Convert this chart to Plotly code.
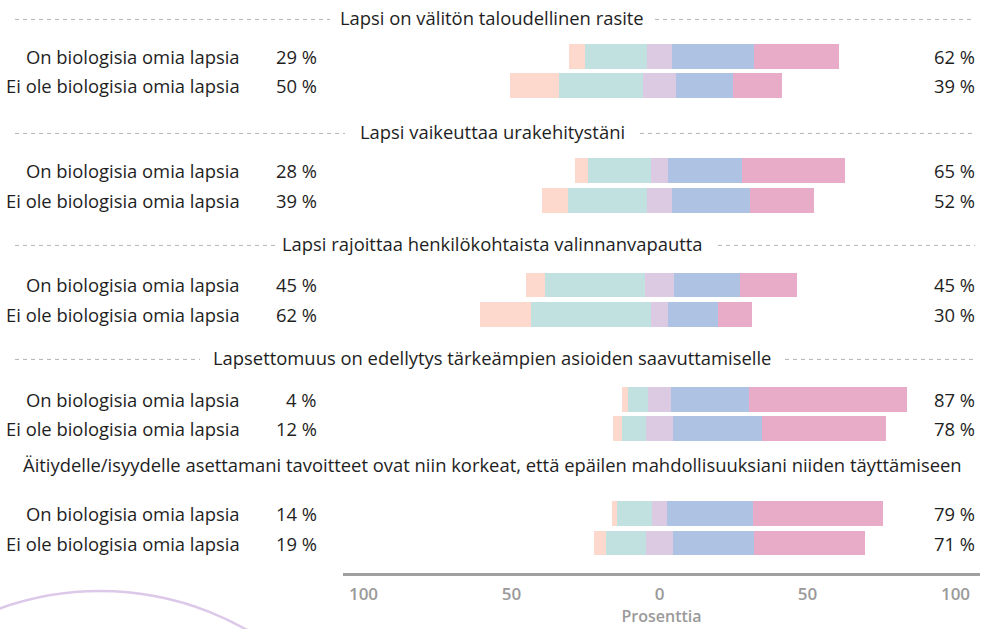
import plotly.graph_objects as go

# ---------------- data ----------------
questions = [
    "Lapsi on välitön taloudellinen rasite",
    "Lapsi vaikeuttaa urakehitystäni",
    "Lapsi rajoittaa henkilökohtaista valinnanvapautta",
    "Lapsettomuus on edellytys tärkeämpien asioiden saavuttamiselle",
    "Äitiydelle/isyydelle asettamani tavoitteet ovat niin korkeat, että epäilen mahdollisuuksiani niiden täyttämiseen",
]
groups = ["On biologisia omia lapsia", "Ei ole biologisia omia lapsia"]

# segment shares (%), rows: q1-on, q1-ei, q2-on, q2-ei, ...
strongly_disagree = [5.9, 18.1, 4.8, 9.6, 7.0, 18.5, 2.2, 3.3, 1.8, 4.4]
disagree = [22.8, 31.0, 23.2, 29.2, 36.9, 44.3, 7.4, 9.2, 12.9, 14.8]
neutral = [9.3, 12.5, 6.6, 9.2, 10.7, 6.6, 8.5, 9.6, 5.9, 10.0]
agree = [30.4, 20.7, 27.3, 28.8, 24.4, 18.2, 28.8, 33.2, 31.7, 29.9]
strongly_agree = [31.3, 18.1, 38.0, 23.6, 21.0, 12.8, 58.3, 45.4, 48.0, 41.0]

left_pct = ["29 %", "50 %", "28 %", "39 %", "45 %", "62 %", "4 %", "12 %", "14 %", "19 %"]
right_pct = ["62 %", "39 %", "65 %", "52 %", "45 %", "30 %", "87 %", "78 %", "79 %", "71 %"]

tick_vals = [-100, -50, 0, 50, 100]
tick_text = ["100", "50", "0", "50", "100"]

# ---------------- style ----------------
C_SD = "#fcd9cc"
C_D = "#c0e1df"
C_N = "#dccae3"
C_A = "#aec2e4"
C_SA = "#e8abc8"
FONT = "Open Sans"
FS = 18.4
TXT = "#1e1e1e"
GREY = "#9a9a9a"

W, H = 989, 629
ML, MR, MT, MB = 343, 9, 0, 56
GROUP_STEP = 3.875
HEADER_OFFSET = [-1.33, -1.34, -1.42, -1.43, -1.65]
ROW_PX = 29.5
FIRST_ROW_PX = 56.3

plot_h = H - MT - MB
y_top = (0 - FIRST_ROW_PX) / ROW_PX
y_bot = (plot_h - FIRST_ROW_PX) / ROW_PX

n_rows = len(left_pct)
ypos = [(i // 2) * GROUP_STEP + (i % 2) for i in range(n_rows)]

fig = go.Figure()


def add(vals, color, name):
    fig.add_trace(go.Bar(
        x=vals, y=ypos, orientation="h", marker=dict(color=color, line=dict(width=0)),
        width=0.84, name=name, hoverinfo="skip", showlegend=False,
    ))


add([-v / 2 for v in neutral], C_N, "n-")
add([-v for v in disagree], C_D, "d")
add([-v for v in strongly_disagree], C_SD, "sd")
add([v / 2 for v in neutral], C_N, "n+")
add(agree, C_A, "a")
add(strongly_agree, C_SA, "sa")

plot_w = W - ML - MR
zero_px = 659.5
bar_scale = 2.71     # px per % for bars
tick_scale = 2.96    # px per unit between printed axis labels
bar_range = [(ML - zero_px) / bar_scale, (W - MR - zero_px) / bar_scale]
tick_pos = [t * tick_scale / bar_scale for t in tick_vals]


def px_to_paper(px):
    return (px - ML) / plot_w


annotations = []
shapes = []
for i in range(n_rows):
    for xpx, txt in [(242, groups[i % 2]), (319, left_pct[i]), (977, right_pct[i])]:
        annotations.append(dict(x=px_to_paper(xpx), y=ypos[i], xref="paper", yref="y", text=txt,
                                xanchor="right", yanchor="middle", showarrow=False,
                                font=dict(family=FONT, size=FS, color=TXT)))

dash_extents = [(330, 655), (345, 640), (275, 718), (200, 785), None]
for g, q in enumerate(questions):
    hy = g * GROUP_STEP + HEADER_OFFSET[g]
    annotations.append(dict(x=px_to_paper(492), y=hy, xref="paper", yref="y", text=q,
                            xanchor="center", yanchor="middle", showarrow=False,
                            font=dict(family=FONT, size=FS, color=TXT)))
    ext = dash_extents[g]
    if ext:
        for x0, x1 in [(15, ext[0]), (ext[1], 975)]:
            shapes.append(dict(type="line", xref="paper", yref="y",
                               x0=px_to_paper(x0), x1=px_to_paper(x1), y0=hy + 0.08, y1=hy + 0.08,
                               line=dict(color="#b4b4b4", width=1, dash="4px,4px")))

# decorative circle at bottom left
cx, cy, r = 100, 888, 297
shapes.append(dict(type="circle", xref="paper", yref="paper",
                   x0=px_to_paper(cx - r), x1=px_to_paper(cx + r),
                   y0=(plot_h - (cy + r)) / plot_h, y1=(plot_h - (cy - r)) / plot_h,
                   line=dict(color="#dcc8e8", width=2.5), layer="below"))

fig.update_layout(
    width=W, height=H, barmode="relative", bargap=0,
    margin=dict(l=ML, r=MR, t=MT, b=MB),
    plot_bgcolor="white", paper_bgcolor="white",
    annotations=annotations, shapes=shapes,
    xaxis=dict(range=bar_range, tickvals=tick_pos, ticktext=tick_text, ticks="",
               showgrid=False, zeroline=False, fixedrange=True,
               showline=True, linecolor="#a0a0a0", linewidth=2.5,
               ticklabelstandoff=4,
               tickfont=dict(family=FONT, size=17, color=GREY, weight=600),
               title=dict(text="Prosenttia", standoff=3,
                          font=dict(family=FONT, size=16, color=GREY, weight=600))),
    yaxis=dict(range=[y_bot, y_top], showticklabels=False, showgrid=False, zeroline=False,
               showline=False, fixedrange=True),
)

fig.write_html("out.html", config={"displayModeBar": False},
               post_script="document.body.style.margin='0';document.body.style.overflow='hidden';")
